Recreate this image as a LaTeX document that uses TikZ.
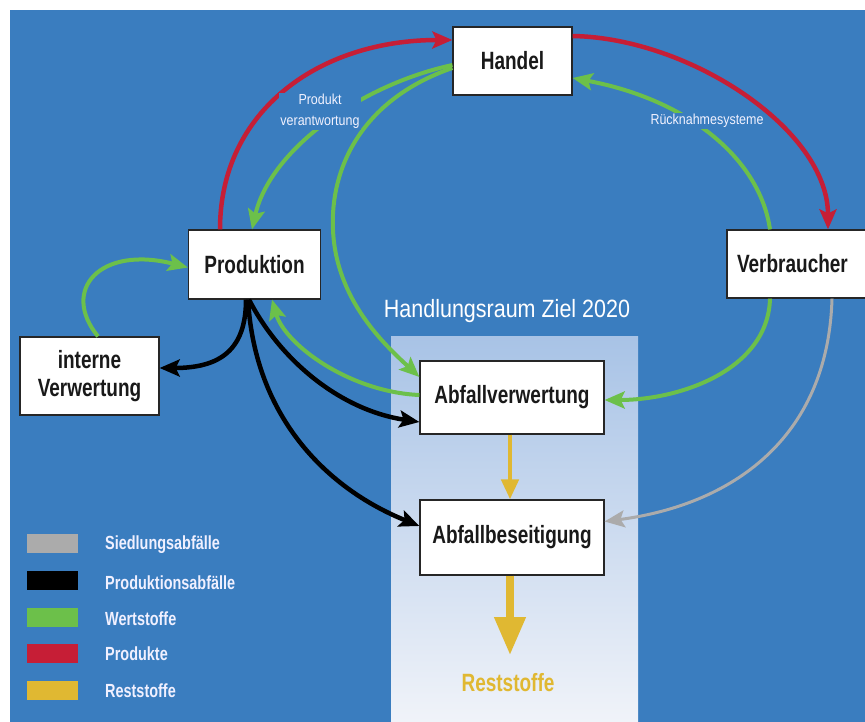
\documentclass[tikz,border=0pt]{standalone}
\usepackage{fontspec}
\setmainfont{Liberation Sans}
\newfontfamily\condfam[FakeStretch=0.76]{Liberation Sans}
\newfontfamily\condlite[FakeStretch=0.86]{Liberation Sans}
\usetikzlibrary{arrows.meta}

\definecolor{bgblue}{HTML}{3A7DBF}
\definecolor{prodred}{HTML}{C61E36}
\definecolor{wertgreen}{HTML}{6CC04A}
\definecolor{siedgrey}{HTML}{ABABAB}
\definecolor{restgold}{HTML}{E0B832}
\definecolor{raumtop}{HTML}{A8C3E6}
\definecolor{raumbot}{HTML}{F0F3F9}

\tikzset{
  box/.style={draw=black!85, line width=1.2pt, fill=white, inner sep=0pt,
    font=\condfam\bfseries\fontsize{25}{28}\selectfont, text=black!90},
  flow/.style={line width=4pt, -{Stealth[length=20pt,width=17pt,inset=4pt]}},
  redflow/.style={flow, draw=prodred, line width=4.5pt},
  greenflow/.style={flow, draw=wertgreen},
  blackflow/.style={flow, draw=black, line width=4.5pt},
  greyflow/.style={flow, draw=siedgrey, line width=3pt},
  goldflow/.style={draw=restgold, line width=4.5pt,
    -{Triangle[length=20pt,width=17pt]}},
  smalllabel/.style={fill=bgblue, text=white!95!blue, inner sep=1.5pt,
    align=center, font=\condlite\fontsize{14.5}{21}\selectfont},
  swatch/.style={minimum width=51pt, minimum height=19pt, inner sep=0pt},
  legendtext/.style={anchor=west, inner sep=0pt, text=white!94!blue,
    font=\condfam\bfseries\fontsize{19}{22}\selectfont},
}

\begin{document}
\begin{tikzpicture}[x=1pt, y=-1pt]
  \useasboundingbox (0,0) rectangle (865,722);
  \clip (0,0) rectangle (865,722);

  % page and blue panel
  \fill[white] (0,0) rectangle (865,722);
  \fill[bgblue] (10,10) rectangle (865,722);

  % target area 2020
  \shade[top color=raumtop, bottom color=raumbot] (391,336) rectangle (638,722);
  \node[text=white, inner sep=0pt,
        font=\condlite\fontsize{25}{28}\selectfont] (raumlabel) at (507,311)
        {Handlungsraum Ziel 2020};

  % main stations
  \node[box, minimum width=119pt, minimum height=68pt] (handel) at (512.5,61) {Handel};
  \node[box, minimum width=132pt, minimum height=69pt] (prod) at (254.5,264.5) {Produktion};
  \node[box, minimum height=68pt, inner xsep=10pt, text width=133pt, align=left]
        (verb) at (803.5,264) {Verbraucher};
  \node[box, minimum width=139pt, minimum height=78pt, align=center]
        (intern) at (89.5,376) {interne\\Verwertung};
  \node[box, minimum width=184pt, minimum height=73pt] (abfv) at (512,397.5) {Abfallverwertung};
  \node[box, minimum width=184pt, minimum height=75pt] (abfb) at (512,537.5) {Abfallbeseitigung};

  \node[text=restgold, inner sep=0pt,
        font=\condfam\bfseries\fontsize{25}{28}\selectfont] (rest) at (508,683) {Reststoffe};
  \coordinate (resttip) at (510,655);

  % products
  \draw[redflow] ([xshift=-34.5pt]prod.north)
      .. controls (220,110) and (320,40) .. ([yshift=21pt]handel.west);
  \draw[redflow] ([yshift=25pt]handel.east)
      .. controls (690,38) and (828,130) .. ([xshift=24.5pt]verb.north);

  % recyclables
  \draw[greenflow] ([yshift=-4pt]handel.west)
      .. controls (360,85) and (270,150) .. ([xshift=-2.5pt]prod.north);
  \draw[greenflow] ([yshift=-7pt]handel.west)
      .. controls (360,100) and (330,170) .. (333,230)
      .. controls (336,300) and (385,345) .. ([yshift=20.5pt]abfv.west);
  \draw[greenflow] ([xshift=-33.5pt]verb.north)
      .. controls (760,160) and (690,100) .. ([yshift=-17pt]handel.east);
  \draw[greenflow] ([xshift=-33.5pt]verb.south)
      .. controls (768,370) and (680,400) .. ([yshift=-2.5pt]abfv.east);
  \draw[greenflow] ([yshift=2.5pt]abfv.west)
      .. controls (350,392) and (285,345) .. ([xshift=17.5pt]prod.south);
  \draw[greenflow] ([xshift=8.5pt]intern.north)
      .. controls (60,290) and (100,245) .. ([yshift=-3pt]prod.west);

  % production waste
  \draw[blackflow] ([xshift=-8.5pt]prod.south)
      .. controls (246,350) and (220,368) .. ([yshift=8pt]intern.east);
  \draw[blackflow] ([xshift=-5.5pt]prod.south)
      .. controls (280,360) and (340,410) .. ([yshift=-24.5pt]abfv.west);
  \draw[blackflow] ([xshift=-6.5pt]prod.south)
      .. controls (255,420) and (330,490) .. ([yshift=11.5pt]abfb.west);

  % municipal waste
  \draw[greyflow] ([xshift=28.5pt]verb.south)
      .. controls (828,440) and (730,505) .. ([yshift=16pt]abfb.east);

  % residues
  \draw[goldflow] ([xshift=-2pt]abfv.south) -- ([xshift=-2pt]abfb.north);
  \draw[draw=restgold, line width=7.5pt, -{Triangle[length=38pt,width=30pt]}]
      ([xshift=-2pt]abfb.south) -- (resttip);

  % flow labels
  \node[smalllabel] (pvlabel) at (320,111.5) {Produkt\\verantwortung};
  \node[smalllabel] (rnlabel) at (707,121) {Rücknahmesysteme};

  % legend
  \node[swatch, fill=siedgrey]  (sw1) at (52.5,543) {};
  \node[swatch, fill=black]     (sw2) at (52.5,580) {};
  \node[swatch, fill=wertgreen] (sw3) at (52.5,617) {};
  \node[swatch, fill=prodred]   (sw4) at (52.5,653) {};
  \node[swatch, fill=restgold]  (sw5) at (52.5,690) {};
  \node[legendtext] (lg1) at (105,545) {Siedlungsabfälle};
  \node[legendtext] (lg2) at (105,583) {Produktionsabfälle};
  \node[legendtext] (lg3) at (105,619) {Wertstoffe};
  \node[legendtext] (lg4) at (105,654) {Produkte};
  \node[legendtext] (lg5) at (105,691) {Reststoffe};
\end{tikzpicture}
\end{document}
